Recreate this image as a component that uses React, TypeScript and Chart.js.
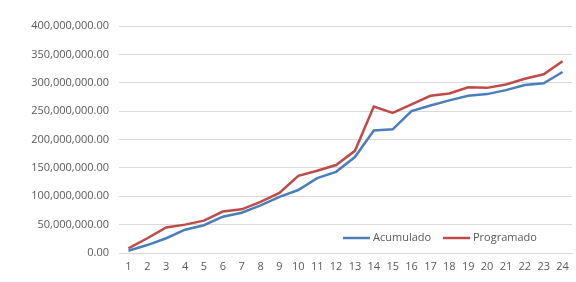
import React, { useEffect, useRef } from "react";
import { Chart, registerables } from "chart.js";

Chart.register(...registerables);

const categories = ["1","2","3","4","5","6","7","8","9","10","11","12","13","14","15","16","17","18","19","20","21","22","23","24"];
const acumulado = [4e6, 14e6, 26e6, 41e6, 49e6, 64e6, 71e6, 84e6, 99e6, 111e6, 132e6, 143e6, 169e6, 216e6, 218e6, 250e6, 260e6, 269e6, 277e6, 280e6, 287e6, 296e6, 299e6, 319e6];
const programado = [8e6, 26e6, 45e6, 50e6, 57e6, 73e6, 77e6, 90e6, 106e6, 136e6, 145e6, 155e6, 180e6, 258e6, 247e6, 262e6, 277e6, 281e6, 292e6, 291e6, 297e6, 307e6, 315e6, 338e6];
const seriesNames = ["Acumulado", "Programado"];
const seriesColors = ["#4A7EBB", "#BE4B48"];

const FONT = "'Open Sans', 'Noto Sans', sans-serif";

const legendPlugin = {
  id: "insideLegend",
  afterDraw(chart: any) {
    const { ctx, chartArea } = chart;
    const y = chartArea.bottom - 15;
    const starts = [chartArea.left + 224, chartArea.left + 324];
    ctx.save();
    ctx.font = `11px ${FONT}`;
    ctx.textBaseline = "middle";
    ctx.fillStyle = "#595959";
    seriesNames.forEach((name, i) => {
      const x = starts[i];
      ctx.strokeStyle = seriesColors[i];
      ctx.lineWidth = 2.5;
      ctx.beginPath();
      ctx.moveTo(x, y);
      ctx.lineTo(x + 27, y);
      ctx.stroke();
      ctx.fillText(name, x + 30, y);
    });
    ctx.restore();
  },
};

export default function App() {
  const ref = useRef<HTMLCanvasElement>(null);
  useEffect(() => {
    document.body.style.margin = "0";
    const chart = new Chart(ref.current!, {
      type: "line",
      data: {
        labels: categories,
        datasets: [
          { label: seriesNames[0], data: acumulado, borderColor: seriesColors[0], backgroundColor: seriesColors[0], borderWidth: 2.5, pointRadius: 0, tension: 0 },
          { label: seriesNames[1], data: programado, borderColor: seriesColors[1], backgroundColor: seriesColors[1], borderWidth: 2.5, pointRadius: 0, tension: 0 },
        ],
      },
      options: {
        responsive: false,
        animation: false,
        layout: { padding: { top: 26, right: 4, left: 0, bottom: 0 } },
        plugins: { legend: { display: false }, tooltip: { enabled: false } },
        scales: {
          x: {
            offset: true,
            grid: { display: false, drawTicks: false },
            border: { display: true, color: "#D9D9D9" },
            ticks: { color: "#595959", font: { family: FONT, size: 11 }, padding: 7, maxRotation: 0, autoSkip: false },
            afterFit: (s: any) => { s.height = 29; },
          },
          y: {
            min: 0,
            max: 400e6,
            grid: { color: "#D9D9D9", drawTicks: false },
            border: { display: false },
            ticks: {
              stepSize: 50e6,
              color: "#595959",
              padding: 10,
              font: { family: FONT, size: 11 },
              callback: (v: any) => Number(v).toLocaleString("en-US", { minimumFractionDigits: 2, maximumFractionDigits: 2 }),
            },
            afterFit: (s: any) => { s.width = 119; },
          },
        },
      },
      plugins: [legendPlugin],
    });
    return () => chart.destroy();
  }, []);
  return <canvas ref={ref} width={576} height={282} style={{ display: "block" }} />;
}
